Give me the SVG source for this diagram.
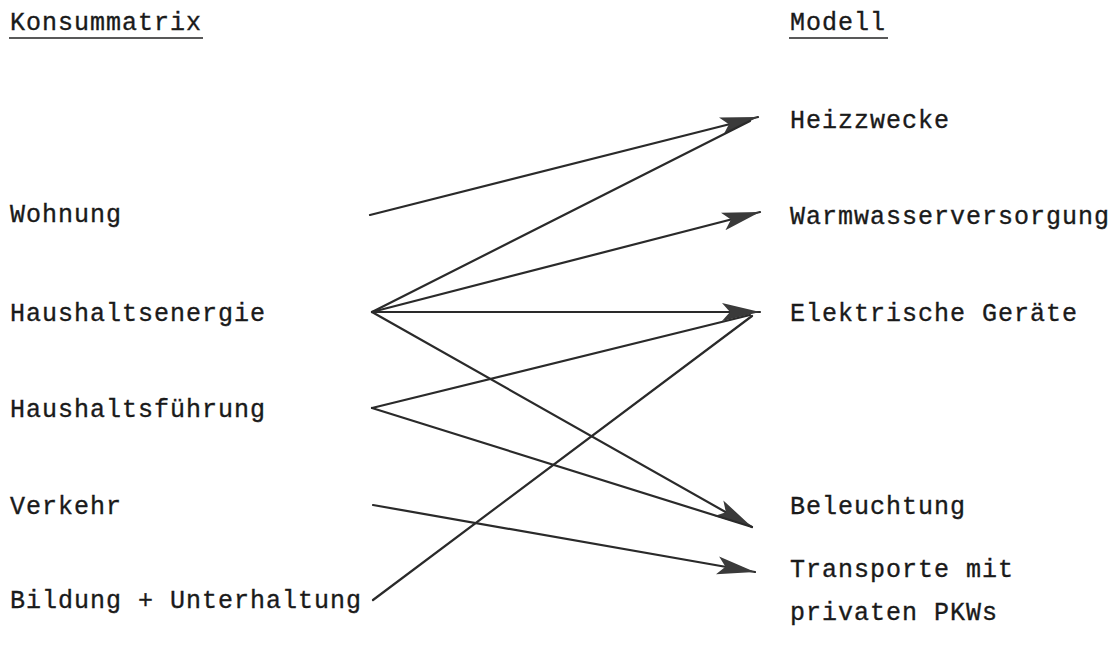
<svg xmlns="http://www.w3.org/2000/svg" width="1112" height="664" viewBox="0 0 1112 664">
<style>
  text { font-family: "Liberation Mono", "DejaVu Sans Mono", monospace; font-size: 25px; letter-spacing: 1px; fill: #1a1a1a; stroke: #1a1a1a; stroke-width: 0.35; }
  .ul { stroke: #222; stroke-width: 1.6; }
  .c { stroke: #2a2a2a; stroke-width: 2.2; fill: none; stroke-linecap: round; }
</style>
<defs>
  <marker id="ah" markerUnits="userSpaceOnUse" markerWidth="40" markerHeight="20" refX="38" refY="9" orient="auto" viewBox="0 0 40 18">
    <path d="M0,0 L38,9 L0,18 L8,9 Z" fill="#3a3a3a"/>
  </marker>
</defs>
<rect width="1112" height="664" fill="#ffffff"/>
<g id="header-left"><text x="10" y="30">Konsummatrix</text><line class="ul" x1="9" y1="38" x2="203" y2="38"/></g>
<g id="header-right"><text x="790" y="30">Modell</text><line class="ul" x1="789" y1="38" x2="888" y2="38"/></g>
<g id="wohnung"><text x="10" y="222">Wohnung</text></g>
<g id="haushaltsenergie"><text x="10" y="321">Haushaltsenergie</text></g>
<g id="haushaltsfuehrung"><text x="10" y="417">Haushaltsführung</text></g>
<g id="verkehr"><text x="10" y="514">Verkehr</text></g>
<g id="bildung"><text x="10" y="608">Bildung + Unterhaltung</text></g>
<g id="heizzwecke"><text x="790" y="128">Heizzwecke</text></g>
<g id="warmwasser"><text x="790" y="224">Warmwasserversorgung</text></g>
<g id="elektrische"><text x="790" y="321">Elektrische Geräte</text></g>
<g id="beleuchtung"><text x="790" y="514">Beleuchtung</text></g>
<g id="transporte"><text x="790" y="577">Transporte mit</text><text x="790" y="620">privaten PKWs</text></g>
<g id="connectors">
  <line class="c" x1="370" y1="215" x2="758" y2="117" marker-end="url(#ah)"/>
  <line class="c" x1="372" y1="312" x2="750" y2="121"/>
  <line class="c" x1="372" y1="312" x2="760" y2="212" marker-end="url(#ah)"/>
  <line class="c" x1="372" y1="312" x2="760" y2="312" marker-end="url(#ah)"/>
  <line class="c" x1="372" y1="312" x2="752" y2="527" marker-end="url(#ah)"/>
  <line class="c" x1="372" y1="408" x2="750" y2="315"/>
  <line class="c" x1="372" y1="408" x2="752" y2="527"/>
  <line class="c" x1="373" y1="505" x2="755" y2="572" marker-end="url(#ah)"/>
  <line class="c" x1="373" y1="600" x2="752" y2="316"/>
</g>
</svg>
